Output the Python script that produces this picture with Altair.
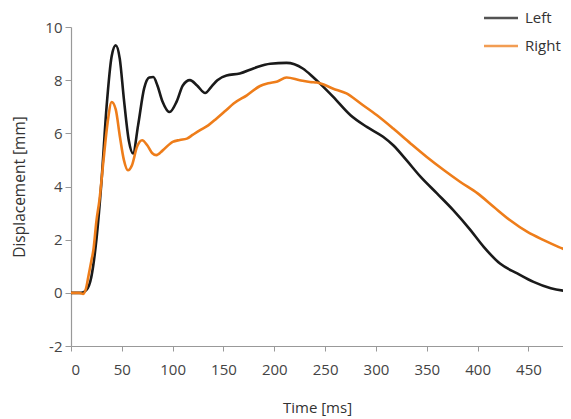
import altair as alt
import pandas as pd

# Left (black) series
left_t = [0, 10, 15, 20, 25, 30, 35, 40, 44, 48, 52, 57, 61, 66, 72, 77, 81, 85, 90, 97,
          104, 110, 117, 124, 132, 138, 144, 153, 166, 180, 196, 212, 228, 238, 245, 258,
          275, 291, 307, 317, 330, 344, 360, 376, 393, 406, 422, 439, 455, 472, 492]
left_v = [0, 0, 0.1, 0.6, 2.0, 4.2, 7.0, 8.9, 9.31, 8.8, 7.3, 5.7, 5.24, 6.3, 7.7, 8.1, 8.12,
          7.8, 7.2, 6.8, 7.2, 7.8, 8.0, 7.8, 7.52, 7.75, 8.0, 8.18, 8.25, 8.45, 8.62, 8.65,
          8.44, 8.12, 7.87, 7.37, 6.68, 6.24, 5.87, 5.55, 4.99, 4.36, 3.74, 3.11, 2.36, 1.73,
          1.1, 0.73, 0.41, 0.17, 0.05]

# Right (orange) series
right_t = [0, 8, 12, 15, 17, 20, 22, 25, 28, 32, 36, 40, 44, 48, 52, 56, 60, 65, 70, 75, 80,
           84, 90, 100, 107, 114, 120, 127, 135, 143, 152, 160, 173, 186, 194, 203, 212, 225,
           235, 242, 258, 271, 285, 301, 317, 334, 350, 367, 383, 400, 416, 432, 449, 465,
           480, 492]
right_v = [0, 0, -0.04, 0.2, 0.6, 1.2, 1.6, 2.7, 3.5, 5.0, 6.4, 7.18, 6.9, 5.9, 5.0, 4.61,
           4.8, 5.5, 5.74, 5.55, 5.25, 5.18, 5.35, 5.68, 5.75, 5.8, 5.95, 6.12, 6.3, 6.55, 6.85,
           7.12, 7.43, 7.78, 7.88, 7.95, 8.1, 8.0, 7.93, 7.91, 7.68, 7.5, 7.12, 6.68, 6.18,
           5.62, 5.11, 4.61, 4.17, 3.74, 3.23, 2.73, 2.29, 1.98, 1.72, 1.54]

series_names = ["Left", "Right"]
series_colors = ["#1a1a1a", "#ee7d1a"]
x_ticks = [0, 50, 100, 150, 200, 250, 300, 350, 400, 450]
y_ticks = [-2, 0, 2, 4, 6, 8, 10]

df = pd.concat([
    pd.DataFrame({"t": left_t, "v": left_v, "side": "Left"}),
    pd.DataFrame({"t": right_t, "v": right_v, "side": "Right"}),
])

FONT = "Open Sans"

chart = alt.Chart(df).mark_line(strokeWidth=2.6, interpolate="monotone", clip=True).encode(
    x=alt.X("t:Q", scale=alt.Scale(domain=[0, 484], nice=False, zero=False),
            axis=alt.Axis(values=x_ticks, title="Time [ms]", grid=False,
                          tickSize=5, labelPadding=11, titlePadding=23)),
    y=alt.Y("v:Q", scale=alt.Scale(domain=[-2, 10], nice=False),
            axis=alt.Axis(values=y_ticks, title="Displacement [mm]", grid=False,
                          tickSize=6, labelPadding=3, titlePadding=17,
                          titleFontSize=15.5,
                          labelExpr="replace(datum.label, '\u2212', '-')")),
    color=alt.Color("side:N", scale=alt.Scale(domain=series_names, range=series_colors),
                    legend=alt.Legend(title=None, orient="none", legendX=420, legendY=-19,
                                      symbolType="M-2,0H2", symbolSize=289,
                                      symbolStrokeWidth=2.5, symbolOpacity=0.75,
                                      labelFontSize=15, labelColor="#333",
                                      labelOffset=14, rowPadding=10, padding=0)),
    order=alt.Order("side:N", sort="ascending"),
).properties(
    width=492, height=319,
    padding={"left": 63, "top": 19, "right": 0, "bottom": 70},
    autosize=alt.AutoSizeParams(type="none"),
).configure_view(
    stroke=None
).configure_axis(
    domainColor="#999", tickColor="#999", labelColor="#444", titleColor="#333",
    labelFont=FONT, titleFont=FONT, labelFontSize=15, titleFontSize=15,
    titleFontWeight="normal", domainWidth=1.2
).configure_legend(
    labelFont=FONT
)

chart.save("out.html", embed_options={"renderer": "svg", "actions": False})
